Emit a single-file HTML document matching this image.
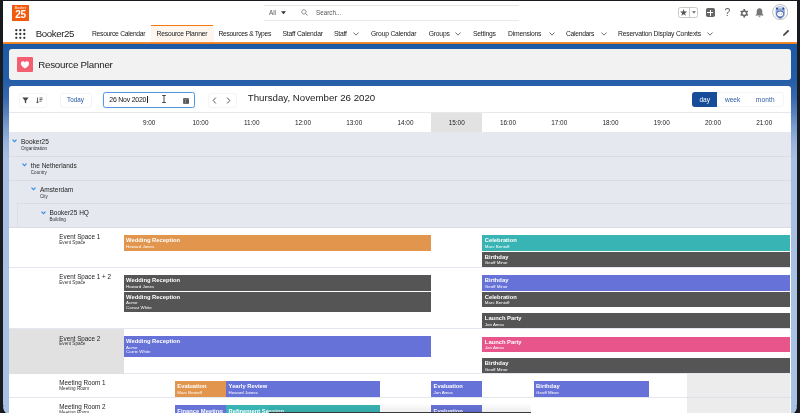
<!DOCTYPE html>
<html><head><meta charset="utf-8">
<style>
*{box-sizing:border-box;margin:0;padding:0}
html,body{width:800px;height:413px;overflow:hidden;background:#181b1f}
body{position:relative;will-change:transform;font-family:"Liberation Sans",Arial,sans-serif;color:#16325c}
.a{position:absolute}
.t{position:absolute;white-space:nowrap;line-height:1}
#bg{left:3px;top:44px;width:794px;height:369px;background:linear-gradient(to bottom,#1c5aa6 0px,#235da7 35px,#3467ad 52px,#5580bd 68px,#7c9fd0 84px,#9ab5dc 100px,#a7c0e1 116px,#aac2e2 369px)}
#hdr{left:3px;top:1px;width:794px;height:41px;background:#fff}
#oline{left:3px;top:42px;width:794px;height:2px;background:linear-gradient(#f59a4a,#ea720e)}
.nav{position:absolute;top:30.6px;font-size:6.75px;letter-spacing:-0.2px;color:#222;white-space:nowrap;line-height:1}
.chev{position:absolute;top:32px;width:4px;height:4px;border-right:1px solid #555;border-bottom:1px solid #555;transform:rotate(45deg)}
#card1{left:9px;top:49px;width:782px;height:31px;background:#f3f2f2;border-radius:3px}
#card2{left:9px;top:86px;width:782px;height:340px;background:#fff;border-radius:3px}
.row{position:absolute;left:10px;width:781px}
.ev{position:absolute;color:#fff;overflow:hidden}
.ev b{position:absolute;left:2.5px;top:3.4px;font-size:5.8px;font-weight:bold;white-space:nowrap;line-height:1}
.ev i{position:absolute;left:2.5px;font-style:normal;font-size:4.4px;white-space:nowrap;line-height:1}
.or{background:#e2954c}.te{background:#38b4b4}.dk{background:#555}.bl{background:#6672d8}.pk{background:#e8558a}
.hl{position:absolute;font-size:6.4px;color:#222;white-space:nowrap;line-height:1;top:120.4px}
.tl{position:absolute;font-size:6.5px;color:#222;white-space:nowrap;line-height:1}
.rl{font-size:6.3px}
.ts{position:absolute;font-size:4.6px;color:#333;white-space:nowrap;line-height:1}
</style></head><body>
<div class="a" id="bg"></div>
<div class="a" id="hdr"></div>
<div class="a" id="oline"></div>

<!-- top bar -->
<div class="a" style="left:12px;top:5px;width:17px;height:16px;background:#f15a0e"></div>
<div class="t" style="left:12px;top:6.8px;width:17px;text-align:center;font-size:3.3px;color:#ffd9c4;font-weight:bold">Booker</div>
<div class="t" style="left:12px;top:10px;width:17px;text-align:center;font-size:10px;color:#fff;font-weight:bold;letter-spacing:-0.2px">25</div>

<div class="a" style="left:264px;top:5px;width:255px;height:15.6px;border-top:1px solid #e6e6e6;border-bottom:1px solid #e9e9e9"></div>
<div class="t" style="left:269px;top:9.5px;font-size:6.3px;color:#555">All</div>
<svg class="a" style="left:281px;top:11.2px" width="5" height="3.4" viewBox="0 0 5 3.4"><path d="M0 0.3h5L2.5 3.2z" fill="#333"/></svg>
<div class="t" style="left:316px;top:9.5px;font-size:6.3px;color:#555">Search...</div>


<!-- waffle -->
<svg class="a" style="left:15px;top:28.5px" width="11" height="10" viewBox="0 0 11 10"><g fill="#333"><circle cx="1.3" cy="1.2" r="1.15"/><circle cx="5.3" cy="1.2" r="1.15"/><circle cx="9.3" cy="1.2" r="1.15"/><circle cx="1.3" cy="5" r="1.15"/><circle cx="5.3" cy="5" r="1.15"/><circle cx="9.3" cy="5" r="1.15"/><circle cx="1.3" cy="8.8" r="1.15"/><circle cx="5.3" cy="8.8" r="1.15"/><circle cx="9.3" cy="8.8" r="1.15"/></g></svg>
<!-- search magnifier -->
<svg class="a" style="left:300.5px;top:9px" width="7" height="7" viewBox="0 0 7 7"><circle cx="2.9" cy="2.9" r="2.2" stroke="#888" stroke-width="0.9" fill="none"/><path d="M4.5 4.5L6.5 6.5" stroke="#888" stroke-width="1"/></svg>
<!-- favorites -->
<div class="a" style="left:677.5px;top:7px;width:20px;height:11px;border:1px solid #c9c9c9;border-radius:2.5px"></div>
<div class="a" style="left:689.3px;top:7.5px;width:0.8px;height:10px;background:#c9c9c9"></div>
<svg class="a" style="left:679.6px;top:8.9px" width="7.2" height="7" viewBox="0 0 10 9.6"><path d="M5 0l1.2 3.5h3.8l-3 2.2 1.1 3.7L5 7.2 1.9 9.4 3 5.7 0 3.5h3.8z" fill="#555"/></svg>
<svg class="a" style="left:691.5px;top:11.3px" width="4" height="3" viewBox="0 0 4 3"><path d="M0 0.2h4L2 2.6z" fill="#666"/></svg>
<!-- plus -->
<div class="a" style="left:705.8px;top:8.2px;width:9px;height:9.3px;background:#666;border-radius:1.8px"></div>
<div class="a" style="left:707.4px;top:12.4px;width:5.8px;height:0.9px;background:#fff"></div>
<div class="a" style="left:709.85px;top:10px;width:0.9px;height:5.7px;background:#fff"></div>
<!-- help -->
<div class="t" style="left:724.6px;top:8.3px;font-size:10.4px;color:#5a5a5a">?</div>
<!-- gear -->
<svg class="a" style="left:739.5px;top:9.2px" width="8.5" height="8.5" viewBox="0 0 10 10"><g fill="#666"><circle cx="5" cy="5" r="3.6"/><rect x="4" y="0" width="2" height="10"/><rect x="4" y="0" width="2" height="10" transform="rotate(60 5 5)"/><rect x="4" y="0" width="2" height="10" transform="rotate(120 5 5)"/></g><circle cx="5" cy="5" r="1.9" fill="#fff"/></svg>
<!-- bell -->
<svg class="a" style="left:754.5px;top:8.3px" width="9" height="9.5" viewBox="0 0 9 9.5"><path d="M4.5 0.3C2.6 0.3 1.7 1.7 1.7 3.5V5.8L0.3 7.4H8.7L7.3 5.8V3.5C7.3 1.7 6.4 0.3 4.5 0.3Z" fill="#777"/><circle cx="4.5" cy="8.4" r="0.9" fill="#8a9bbd"/></svg>
<!-- avatar -->
<svg class="a" style="left:771.8px;top:3.7px" width="16.4" height="16.2" viewBox="0 0 16.4 16.2"><circle cx="8.2" cy="8.1" r="7.6" fill="#fafbfd" stroke="#b4b4b8" stroke-width="0.8"/><path d="M3.6 6.5c0-2.6 2-4.2 4.6-4.2s4.6 1.6 4.6 4.2v3.2c0 2.8-2 4.6-4.6 4.6S3.6 12.5 3.6 9.7z" fill="#8ea8d8"/><path d="M4.6 4.6c0.8-1.3 2-1.8 3.6-1.8s2.8 0.5 3.6 1.8z" fill="#d6e0f2"/><path d="M4.3 9.8c0-2 1.7-3.1 3.9-3.1s3.9 1.1 3.9 3.1-1.7 3.3-3.9 3.3-3.9-1.3-3.9-3.3z" fill="#3c5fa6"/><ellipse cx="8.2" cy="10" rx="3.1" ry="2.5" fill="#fff"/><circle cx="5" cy="4.5" r="1" fill="#25407a"/><circle cx="11.4" cy="4.5" r="1" fill="#25407a"/><path d="M6.6 9.8h0.9M8.9 10.1h1.1" stroke="#3c5fa6" stroke-width="0.6"/><path d="M6.6 13.9h3.2" stroke="#2b4a8a" stroke-width="0.9"/></svg>
<!-- pencil -->
<svg class="a" style="left:781.5px;top:29px" width="8" height="8" viewBox="0 0 8 8"><path d="M1 7l0.4-1.7L6 0.7l1.3 1.3L2.7 6.6z" fill="#444"/></svg>

<!-- nav -->
<div class="t" style="left:35.8px;top:29.2px;font-size:9.7px;letter-spacing:-0.4px;color:#1a1a1a">Booker25</div>
<div class="a" style="left:151px;top:26.3px;width:63px;height:15.7px;background:#fdf5ee"></div>
<div class="a" style="left:151px;top:24.6px;width:62px;height:1.4px;background:#f2790f"></div>
<div class="nav" style="left:92px;letter-spacing:-0.29px">Resource Calendar</div>
<div class="nav" style="left:156.5px">Resource Planner</div>
<div class="nav" style="left:218.5px;letter-spacing:-0.35px">Resources &amp; Types</div>
<div class="nav" style="left:282.5px">Staff Calendar</div>
<div class="nav" style="left:334px">Staff</div>
<svg class="a" style="left:353.2px;top:32.3px" width="6" height="3.8" viewBox="0 0 6 3.8"><path d="M0.4 0.5L3 3.1 5.6 0.5" stroke="#555" stroke-width="0.85" fill="none"/></svg>
<div class="nav" style="left:371px">Group Calendar</div>
<div class="nav" style="left:428.7px">Groups</div>
<svg class="a" style="left:455.2px;top:32.3px" width="6" height="3.8" viewBox="0 0 6 3.8"><path d="M0.4 0.5L3 3.1 5.6 0.5" stroke="#555" stroke-width="0.85" fill="none"/></svg>
<div class="nav" style="left:473px">Settings</div>
<div class="nav" style="left:508px">Dimensions</div>
<svg class="a" style="left:548.5px;top:32.3px" width="6" height="3.8" viewBox="0 0 6 3.8"><path d="M0.4 0.5L3 3.1 5.6 0.5" stroke="#555" stroke-width="0.85" fill="none"/></svg>
<div class="nav" style="left:566px;letter-spacing:-0.3px">Calendars</div>
<svg class="a" style="left:600.5px;top:32.3px" width="6" height="3.8" viewBox="0 0 6 3.8"><path d="M0.4 0.5L3 3.1 5.6 0.5" stroke="#555" stroke-width="0.85" fill="none"/></svg>
<div class="nav" style="left:618px">Reservation Display Contexts</div>
<svg class="a" style="left:706.5px;top:32.3px" width="6" height="3.8" viewBox="0 0 6 3.8"><path d="M0.4 0.5L3 3.1 5.6 0.5" stroke="#555" stroke-width="0.85" fill="none"/></svg>

<!-- cards -->
<div class="a" id="card1"></div>
<div class="a" style="left:17px;top:57px;width:15.6px;height:15px;background:#f35f70;border-radius:1px"></div>
<svg class="a" style="left:19.8px;top:59.6px" width="10" height="10" viewBox="0 0 10 10"><path d="M5 8.6C2.2 6.6 0.9 5.2 0.9 3.5 0.9 2.2 1.9 1.3 3 1.3c0.9 0 1.6 0.5 2 1.1 0.4-0.6 1.1-1.1 2-1.1 1.1 0 2.1 0.9 2.1 2.2 0 1.7-1.3 3.1-4.1 5.1z" fill="#fff"/></svg>
<div class="t" style="left:38.2px;top:59.6px;font-size:9.8px;letter-spacing:-0.25px;color:#222">Resource Planner</div>

<div class="a" id="card2"></div>
<div class="a" style="left:19px;top:92.5px;width:28px;height:15px;border:1px solid #f4f5f7;border-radius:3px"></div>
<svg class="a" style="left:22px;top:96.5px" width="7" height="7" viewBox="0 0 7 7"><path d="M0.3 0.5h6.4L4.2 3.4V6.5L2.8 5.6V3.4Z" fill="#444"/></svg>
<svg class="a" style="left:36px;top:96.5px" width="7" height="7" viewBox="0 0 7 7"><path d="M1.5 0.5v5.5M0.2 4.6l1.3 1.5 1.3-1.5" stroke="#555" stroke-width="0.9" fill="none"/><path d="M3.5 1h3M3.5 2.6h3M3.5 4.2h2" stroke="#555" stroke-width="0.9"/></svg>
<div class="a" style="left:59.5px;top:92.5px;width:32.5px;height:15px;border:1px solid #f4f5f7;border-radius:3px"></div>
<div class="t" style="left:67px;top:97px;font-size:6.3px;color:#1f55a2">Today</div>
<div class="a" style="left:102.5px;top:92px;width:92.5px;height:15.5px;border:1px solid #5597e2;border-radius:2.5px;box-shadow:0 0 1px #9cc3f0"></div>
<div class="t" style="left:109.3px;top:97.3px;font-size:6.9px;letter-spacing:-0.2px;color:#111">26 Nov 2020</div>
<div class="a" style="left:146.8px;top:95.8px;width:0.8px;height:7.6px;background:#222"></div>
<svg class="a" style="left:162px;top:95px" width="4" height="8" viewBox="0 0 4 8"><path d="M0.2 0.5h3.6M0.2 7.5h3.6M2 0.5v7" stroke="#333" stroke-width="0.9"/></svg>
<div class="a" style="left:182.7px;top:97.6px;width:6.6px;height:6.2px;background:#6e6e6e;border-radius:0.8px"></div>
<div class="a" style="left:183.5px;top:99.5px;width:5px;height:3.6px;background:repeating-linear-gradient(90deg,#555 0 1.2px,#8a8a8a 1.2px 1.7px)"></div>
<div class="a" style="left:207.5px;top:92.5px;width:29.5px;height:15px;border:1px solid #f4f5f7;border-radius:3px"></div>
<svg class="a" style="left:211.5px;top:96.5px" width="5" height="7" viewBox="0 0 5 7"><path d="M3.8 0.6L1.2 3.5l2.6 2.9" stroke="#444" stroke-width="0.9" fill="none"/></svg>
<svg class="a" style="left:226px;top:96.5px" width="5" height="7" viewBox="0 0 5 7"><path d="M1.2 0.6l2.6 2.9-2.6 2.9" stroke="#444" stroke-width="0.9" fill="none"/></svg>
<div class="t" style="left:247.8px;top:93.3px;font-size:9.7px;color:#222">Thursday, November 26 2020</div>
<div class="a" style="left:692px;top:92.3px;width:91.5px;height:15.2px;border:1px solid #f4f5f7;border-radius:3px"></div>
<div class="a" style="left:692px;top:92.3px;width:25px;height:15.2px;background:#174d98;border-radius:3px 0 0 3px"></div>
<div class="t" style="left:699.5px;top:96.8px;font-size:6.5px;color:#fff">day</div>
<div class="t" style="left:725px;top:96.8px;font-size:6.5px;color:#2a5aa0">week</div>
<div class="t" style="left:755.8px;top:96.8px;font-size:6.5px;letter-spacing:0.2px;color:#2a5aa0">month</div>
<div class="a" style="left:9px;top:112px;width:782px;height:1px;background:#e6e8ec"></div>
<div class="a" style="left:431.10px;top:113px;width:51.25px;height:19px;background:#e2e2e2"></div>
<div class="hl" style="left:129.22px;width:40px;text-align:center">9:00</div>
<div class="hl" style="left:180.48px;width:40px;text-align:center">10:00</div>
<div class="hl" style="left:231.72px;width:40px;text-align:center">11:00</div>
<div class="hl" style="left:282.98px;width:40px;text-align:center">12:00</div>
<div class="hl" style="left:334.22px;width:40px;text-align:center">13:00</div>
<div class="hl" style="left:385.48px;width:40px;text-align:center">14:00</div>
<div class="hl" style="left:436.72px;width:40px;text-align:center">15:00</div>
<div class="hl" style="left:487.98px;width:40px;text-align:center">16:00</div>
<div class="hl" style="left:539.22px;width:40px;text-align:center">17:00</div>
<div class="hl" style="left:590.48px;width:40px;text-align:center">18:00</div>
<div class="hl" style="left:641.72px;width:40px;text-align:center">19:00</div>
<div class="hl" style="left:692.98px;width:40px;text-align:center">20:00</div>
<div class="hl" style="left:744.22px;width:40px;text-align:center">21:00</div>
<div class="a" style="left:9px;top:132px;width:782px;height:96px;background:#e6e8f0"></div>
<div class="a" style="left:9px;top:156px;width:782px;height:1px;background:#d8dce6"></div>
<div class="a" style="left:9px;top:180px;width:782px;height:1px;background:#d8dce6"></div>
<div class="a" style="left:17px;top:203px;width:774px;height:1px;background:#d8dce6"></div>
<div class="a" style="left:9px;top:227px;width:782px;height:1px;background:#d8dce6"></div>
<div class="a" style="left:17px;top:204px;width:1px;height:23px;background:#dcdfe8"></div>
<svg class="a" style="left:12px;top:139.3px" width="5" height="4" viewBox="0 0 5 4"><path d="M0.5 0.7l2 2 2-2" stroke="#2d8ae6" stroke-width="1.1" fill="none"/></svg>
<div class="tl" style="left:21px;top:138.7px">Booker25</div>
<div class="ts" style="left:21px;top:146.5px">Organization</div>
<svg class="a" style="left:22px;top:163.3px" width="5" height="4" viewBox="0 0 5 4"><path d="M0.5 0.7l2 2 2-2" stroke="#2d8ae6" stroke-width="1.1" fill="none"/></svg>
<div class="tl" style="left:30.8px;top:162.7px">the Netherlands</div>
<div class="ts" style="left:30.8px;top:170.5px">Country</div>
<svg class="a" style="left:31px;top:187.3px" width="5" height="4" viewBox="0 0 5 4"><path d="M0.5 0.7l2 2 2-2" stroke="#2d8ae6" stroke-width="1.1" fill="none"/></svg>
<div class="tl" style="left:40px;top:186.7px">Amsterdam</div>
<div class="ts" style="left:40px;top:194.5px">City</div>
<svg class="a" style="left:40.7px;top:210.8px" width="5" height="4" viewBox="0 0 5 4"><path d="M0.5 0.7l2 2 2-2" stroke="#2d8ae6" stroke-width="1.1" fill="none"/></svg>
<div class="tl" style="left:49.5px;top:210.2px">Booker25 HQ</div>
<div class="ts" style="left:49.5px;top:218.0px">Building</div>
<div class="a" style="left:9px;top:228px;width:782px;height:40px;border-bottom:1px solid #e3e7ef"></div>
<div class="a" style="left:9px;top:268px;width:782px;height:61px;border-bottom:1px solid #e3e7ef"></div>
<div class="a" style="left:9px;top:329px;width:782px;height:44.5px;border-bottom:1px solid #e3e7ef"></div>
<div class="a" style="left:9px;top:373.5px;width:782px;height:24.0px;border-bottom:1px solid #e3e7ef"></div>
<div class="a" style="left:9px;top:397.5px;width:782px;height:32.5px;border-bottom:1px solid #e3e7ef"></div>
<div class="a" style="left:9px;top:329px;width:115px;height:44.5px;background:#e1e1e1"></div>
<div class="a" style="left:687.35px;top:374px;width:102.9px;height:40px;background:#ececec"></div>
<div class="a" style="left:687.35px;top:397px;width:102.9px;height:1px;background:#dde2ea"></div>
<div class="tl rl" style="left:59.3px;top:234.20px">Event Space 1</div>
<div class="ts" style="left:59.3px;top:240.80px">Event Space</div>
<div class="tl rl" style="left:59.3px;top:274.45px">Event Space 1 + 2</div>
<div class="ts" style="left:59.3px;top:281.05px">Event Space</div>
<div class="tl rl" style="left:59.3px;top:335.70px">Event Space 2</div>
<div class="ts" style="left:59.3px;top:342.30px">Event Space</div>
<div class="tl rl" style="left:59.3px;top:380.40px">Meeting Room 1</div>
<div class="ts" style="left:59.3px;top:387.00px">Meeting Room</div>
<div class="tl rl" style="left:59.3px;top:403.95px">Meeting Room 2</div>
<div class="ts" style="left:59.3px;top:410.55px">Meeting Room</div>
<div class="ev or" style="left:123.60px;top:235px;width:307.50px;height:15.699999999999989px"><b>Wedding Reception</b><i style="top:9.5px">Howard Jones</i></div>
<div class="ev te" style="left:482.35px;top:235px;width:307.50px;height:15.699999999999989px"><b>Celebration</b><i style="top:9.5px">Marc Benioff</i></div>
<div class="ev dk" style="left:482.35px;top:251.8px;width:307.50px;height:15.199999999999989px"><b>Birthday</b><i style="top:9.5px">Geoff Minor</i></div>
<div class="ev dk" style="left:123.60px;top:275px;width:307.50px;height:15.5px"><b>Wedding Reception</b><i style="top:9.5px">Howard Jones</i></div>
<div class="ev dk" style="left:123.60px;top:291.8px;width:307.50px;height:20.399999999999977px"><b>Wedding Reception</b><i style="top:9.5px">Acme</i><i style="top:14.4px">Carsar White</i></div>
<div class="ev bl" style="left:482.35px;top:275px;width:307.50px;height:15.5px"><b>Birthday</b><i style="top:9.5px">Geoff Minor</i></div>
<div class="ev dk" style="left:482.35px;top:291.8px;width:307.50px;height:15.199999999999989px"><b>Celebration</b><i style="top:9.5px">Marc Benioff</i></div>
<div class="ev dk" style="left:482.35px;top:313px;width:307.50px;height:15.300000000000011px"><b>Launch Party</b><i style="top:9.5px">Jon Amos</i></div>
<div class="ev bl" style="left:123.60px;top:336px;width:307.50px;height:21px"><b>Wedding Reception</b><i style="top:9.5px">Acme</i><i style="top:14.4px">Carrie White</i></div>
<div class="ev pk" style="left:482.35px;top:336.5px;width:307.50px;height:15.300000000000011px"><b>Launch Party</b><i style="top:9.5px">Jon Amos</i></div>
<div class="ev dk" style="left:482.35px;top:358px;width:307.50px;height:15.199999999999989px"><b>Birthday</b><i style="top:9.5px">Geoff Minor</i></div>
<div class="ev or" style="left:174.85px;top:381px;width:51.25px;height:15.5px"><b>Evaluation</b><i style="top:9.5px">Marc Benioff</i></div>
<div class="ev bl" style="left:226.10px;top:381px;width:153.75px;height:15.5px"><b>Yearly Review</b><i style="top:9.5px">Howard James</i></div>
<div class="ev bl" style="left:431.10px;top:381px;width:51.25px;height:15.5px"><b>Evaluation</b><i style="top:9.5px">Jon Amos</i></div>
<div class="ev bl" style="left:533.60px;top:381px;width:115.31px;height:15.5px"><b>Birthday</b><i style="top:9.5px">Geoff Minor</i></div>
<div class="ev bl" style="left:174.85px;top:405.3px;width:51.25px;height:15.699999999999989px"><b>Finance Meeting</b><i style="top:9.5px">Howard Jones</i></div>
<div class="ev te" style="left:226.10px;top:405.3px;width:153.75px;height:15.699999999999989px"><b>Refinement Session</b><i style="top:9.5px">Acme</i></div>
<div class="ev bl" style="left:431.10px;top:405.3px;width:51.25px;height:15.699999999999989px"><b>Evaluation</b><i style="top:9.5px">Jon Amos</i></div>
<div class="a" style="left:269px;top:403px;width:262px;height:9px;background:linear-gradient(to bottom,rgba(0,0,0,0),rgba(0,0,0,0.07))"></div>
<div class="a" style="left:269px;top:412px;width:262px;height:1px;background:#3a3a3a"></div>
<div class="a" style="left:3px;top:405px;width:8px;height:8px;background:radial-gradient(circle 8px at 8px 2px,rgba(27,27,27,0) 7.4px,#161616 8.2px)"></div>
<div class="a" style="left:789px;top:405px;width:8px;height:8px;background:radial-gradient(circle 8px at 0px 2px,rgba(27,27,27,0) 7.4px,#161616 8.2px)"></div>
</body></html>
